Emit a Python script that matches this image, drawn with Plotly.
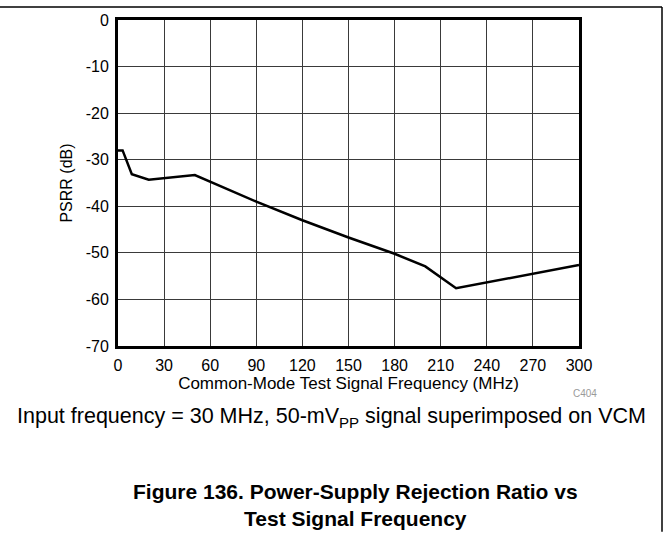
import plotly.graph_objects as go

# PSRR vs common-mode test signal frequency
freq_mhz = [0, 3, 9, 20, 50, 90, 120, 150, 180, 200, 220, 300]
psrr_db = [-28.0, -28.0, -33.1, -34.3, -33.3, -39.0, -43.0, -46.7, -50.2, -52.9, -57.6, -52.6]

x_ticks = [0, 30, 60, 90, 120, 150, 180, 210, 240, 270, 300]
y_ticks = [0, -10, -20, -30, -40, -50, -60, -70]

W, H = 669, 533
L, R, T, B = 118, 90, 18, 187
PW, PH = W - L - R, H - T - B


def px_x(x):
    return (x - L) / PW


def px_y(y):
    return (H - B - y) / PH


FONT = "Liberation Sans, Arial, sans-serif"

fig = go.Figure()
fig.add_trace(go.Scatter(
    x=freq_mhz, y=psrr_db, mode="lines",
    line=dict(color="black", width=2.5),
    showlegend=False, hoverinfo="skip",
))

axis_common = dict(
    showline=True, linecolor="black", linewidth=3, mirror=True,
    showgrid=True, gridcolor="#3a3a3a", gridwidth=1,
    zeroline=False, ticks="", tickfont=dict(family=FONT, size=16, color="black"),
)

fig.update_xaxes(
    range=[0, 300], tickvals=x_ticks, ticktext=[str(v) for v in x_ticks],
    title=dict(text="Common-Mode Test Signal Frequency (MHz)",
               font=dict(family=FONT, size=17, color="black"), standoff=4),
    ticklabelstandoff=3,
    **axis_common,
)
fig.update_yaxes(
    range=[-70, 0], tickvals=y_ticks, ticktext=[str(v) for v in y_ticks],
    title=dict(text="PSRR (dB)", font=dict(family=FONT, size=16, color="black"), standoff=10),
    ticklabelstandoff=3,
    **axis_common,
)

# outer frame: top rule and right rule
fig.add_shape(type="line", xref="paper", yref="paper",
              x0=px_x(0), x1=px_x(662), y0=px_y(5), y1=px_y(5),
              line=dict(color="black", width=1.5))
fig.add_shape(type="line", xref="paper", yref="paper",
              x0=px_x(662), x1=px_x(662), y0=px_y(5), y1=px_y(533),
              line=dict(color="black", width=1.5))

fig.add_annotation(xref="paper", yref="paper", x=px_x(585), y=px_y(394),
                   text="C404", showarrow=False, xanchor="center", yanchor="middle",
                   font=dict(family=FONT, size=10, color="#9a9a9a"))
fig.add_annotation(xref="paper", yref="paper", x=px_x(331), y=px_y(418),
                   text="Input frequency = 30 MHz, 50-mV<sub>PP</sub> signal superimposed on VCM",
                   showarrow=False, xanchor="center", yanchor="middle",
                   font=dict(family=FONT, size=21.5, color="black"))
fig.add_annotation(xref="paper", yref="paper", x=px_x(355), y=px_y(506),
                   text="<b>Figure 136. Power-Supply Rejection Ratio vs<br>Test Signal Frequency</b>",
                   showarrow=False, xanchor="center", yanchor="middle", align="center",
                   font=dict(family=FONT, size=21, color="black"))

fig.update_layout(
    width=W, height=H,
    margin=dict(l=L, r=R, t=T, b=B),
    paper_bgcolor="white", plot_bgcolor="white",
    showlegend=False,
)

fig.write_html("out.html")
